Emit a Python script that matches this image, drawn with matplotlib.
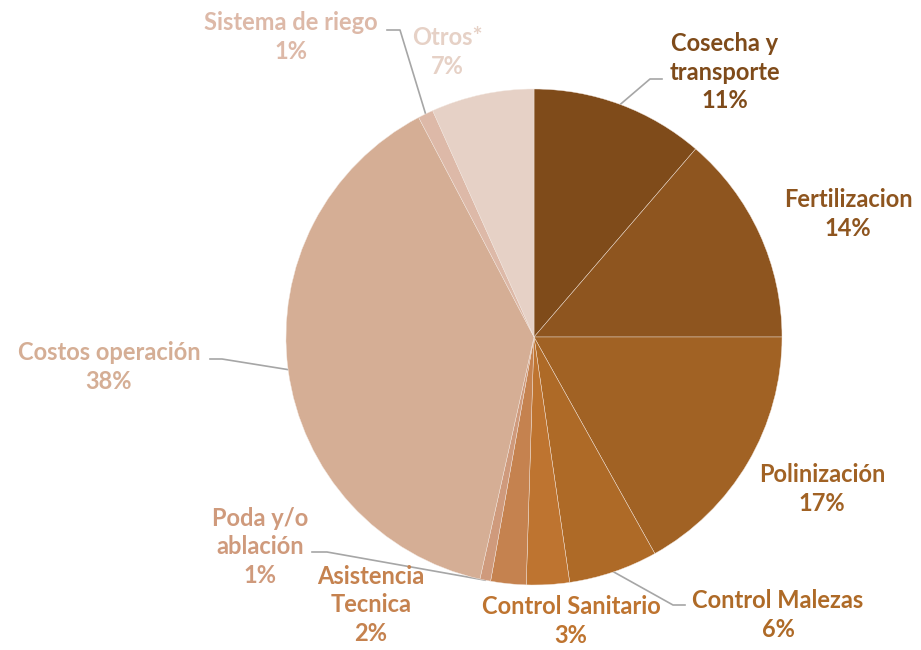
import numpy as np
import matplotlib.pyplot as plt

W, H = 921, 650

labels = ["Cosecha y\ntransporte", "Fertilizacion", "Polinización", "Control Malezas",
          "Control Sanitario", "Asistencia\nTecnica", "Poda y/o\nablación",
          "Costos operación", "Sistema de riego", "Otros*"]
values = [11.3, 13.7, 16.9, 5.8, 2.8, 2.3, 0.7, 38.8, 1.0, 6.7]
pct_text = ["11%", "14%", "17%", "6%", "3%", "2%", "1%", "38%", "1%", "7%"]
colors = ["#7F4B1A", "#8E551F", "#A16224", "#AE6A27", "#BE7430",
          "#C5824F", "#CF9A7C", "#D5AE95", "#DDB9A8", "#E6D1C6"]

# layout (pixel coords, y down)
center = (534, 337)
radius = 248
label_pos = [(725, 72), (848, 214), (822, 489), (778, 615), (571, 621),
             (371, 605), (260, 547), (109, 367), (291, 37), (447, 52)]
# elbow points for leader lines
leaders = {0: [(650, 79), (662, 79)],
           3: [(673, 605), (685, 605)],
           6: [(327, 552), (312, 552)],
           7: [(222, 359), (210, 359)],
           8: [(400, 30), (387, 30)]}

fig = plt.figure(figsize=(W / 100, H / 100), dpi=100)
ax = fig.add_axes([0, 0, 1, 1])

cx, cy = center[0], H - center[1]
wedges, _ = ax.pie(values, colors=colors, startangle=90, counterclock=False,
                   center=(cx, cy), radius=radius, frame=True,
                   wedgeprops=dict(edgecolor='#F2E6DE', linewidth=0.3))
ax.set_xlim(0, W)
ax.set_ylim(0, H)
ax.axis('off')

for i, w in enumerate(wedges):
    x, y = label_pos[i]
    ax.text(x, H - y, labels[i] + "\n" + pct_text[i], ha='center', va='center',
            color=colors[i], fontsize=17, fontweight='bold', family='Lato',
            linespacing=1.3)
    if i in leaders:
        ang = np.deg2rad((w.theta1 + w.theta2) / 2)
        pts = [(cx + radius * np.cos(ang), cy + radius * np.sin(ang))]
        pts += [(px, H - py) for px, py in leaders[i]]
        xs, ys = zip(*pts)
        ax.plot(xs, ys, color='#A6A6A6', lw=1.2, zorder=0.5)

fig.savefig('out.png', dpi=100)
